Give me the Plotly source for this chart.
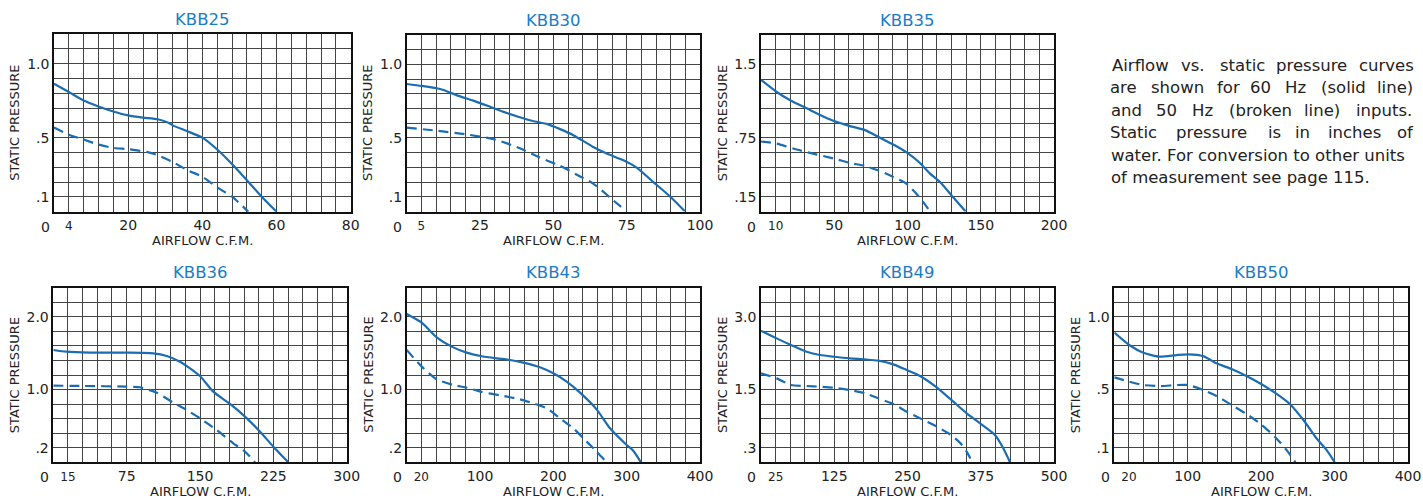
import plotly.graph_objects as go

W, H = 1423, 499

# ---------------- data ----------------
chart_names = ["KBB25", "KBB30", "KBB35", "KBB36", "KBB43", "KBB49", "KBB50"]

# axis maxima (20 x-divisions, 12 y-divisions)
x_max = [80, 100, 200, 300, 400, 500, 400]
y_max = [1.2, 1.2, 1.8, 2.4, 2.4, 3.6, 1.2]

# tick values / labels
x_tickvals = [[4, 20, 40, 60, 80], [5, 25, 50, 75, 100], [10, 50, 100, 150, 200],
              [15, 75, 150, 225, 300], [20, 100, 200, 300, 400],
              [25, 125, 250, 375, 500], [20, 100, 200, 300, 400]]
y_tickvals = [[0.1, 0.5, 1.0], [0.1, 0.5, 1.0], [0.15, 0.75, 1.5],
              [0.2, 1.0, 2.0], [0.2, 1.0, 2.0], [0.3, 1.5, 3.0], [0.1, 0.5, 1.0]]
y_ticktext = [[".1", ".5", "1.0"], [".1", ".5", "1.0"], [".15", ".75", "1.5"],
              [".2", "1.0", "2.0"], [".2", "1.0", "2.0"], [".3", "1.5", "3.0"], [".1", ".5", "1.0"]]

# 60 Hz (solid) and 50 Hz (broken) curves
kbb25_cfm_60 = [0, 4, 8, 12, 16, 20, 24, 28, 31, 32, 35.8, 40, 44, 48.3, 52, 56, 60]
kbb25_sp_60 = [0.864, 0.808, 0.751, 0.711, 0.677, 0.650, 0.635, 0.624, 0.599, 0.583, 0.545, 0.50, 0.42, 0.314, 0.213, 0.101, 0.0]
kbb25_cfm_50 = [0, 4, 8, 12, 16, 20, 25, 28, 32, 36, 40, 44, 48, 52.4]
kbb25_sp_50 = [0.568, 0.52, 0.487, 0.453, 0.431, 0.422, 0.404, 0.381, 0.336, 0.28, 0.236, 0.164, 0.101, 0.0]

kbb30_cfm_60 = [0, 5.1, 10.2, 12.5, 17.7, 22.7, 27.8, 32.8, 38, 43, 48, 52.3, 56.8, 59.7, 63.6, 68.2, 73.9, 78.4, 84.1, 89.8, 94.9]
kbb30_sp_60 = [0.867, 0.854, 0.838, 0.826, 0.786, 0.754, 0.717, 0.679, 0.644, 0.615, 0.594, 0.56, 0.519, 0.485, 0.439, 0.394, 0.348, 0.298, 0.2, 0.102, 0.0]
kbb30_cfm_50 = [0, 10, 20, 30, 38.6, 45, 52.3, 58, 63.6, 70.5, 75]
kbb30_sp_50 = [0.57, 0.55, 0.525, 0.49, 0.43, 0.37, 0.31, 0.25, 0.19, 0.075, 0.0]

kbb35_cfm_60 = [0, 10.7, 20.5, 31.2, 40.3, 49.8, 60.8, 71, 80, 90.3, 99.9, 108.5, 115.4, 122.2, 130.1, 139.7]
kbb35_sp_60 = [1.342, 1.219, 1.13, 1.052, 0.984, 0.922, 0.871, 0.83, 0.762, 0.683, 0.598, 0.495, 0.386, 0.3, 0.164, 0.0]
kbb35_cfm_50 = [0, 10.7, 22, 33.4, 49.8, 60.8, 71, 80, 90.3, 99.4, 105, 110.8, 115.4]
kbb35_sp_50 = [0.714, 0.693, 0.642, 0.598, 0.54, 0.495, 0.464, 0.42, 0.352, 0.283, 0.198, 0.096, 0.0]

kbb36_cfm_60 = [0, 13.6, 37.5, 75, 102.3, 116, 129.5, 139.8, 150, 163.6, 180.7, 196, 211.4, 225, 240.3]
kbb36_sp_60 = [1.544, 1.52, 1.507, 1.507, 1.498, 1.461, 1.383, 1.292, 1.186, 0.971, 0.802, 0.628, 0.421, 0.215, 0.0]
kbb36_cfm_50 = [0, 30.7, 75, 88.6, 105.7, 122.7, 136.4, 150, 167, 184, 196, 206.3]
kbb36_sp_50 = [1.054, 1.049, 1.04, 1.031, 0.957, 0.82, 0.719, 0.605, 0.444, 0.261, 0.147, 0.0]

kbb43_cfm_60 = [0, 20.5, 40.9, 61.4, 81.8, 100.9, 122.7, 140.9, 159, 181.8, 200, 218.2, 236.4, 259, 277.3, 300, 309, 319.5]
kbb43_sp_60 = [2.038, 1.919, 1.718, 1.59, 1.507, 1.461, 1.429, 1.406, 1.37, 1.306, 1.223, 1.109, 0.957, 0.728, 0.467, 0.238, 0.16, 0.0]
kbb43_cfm_50 = [0, 20.5, 40.9, 63.6, 81.8, 100.9, 127.3, 154.5, 172.7, 190.9, 209, 227.3, 245.5, 259, 272.7]
kbb43_sp_50 = [1.544, 1.315, 1.141, 1.063, 1.026, 0.971, 0.921, 0.866, 0.811, 0.742, 0.605, 0.467, 0.284, 0.147, 0.0]

kbb49_cfm_60 = [0, 26.7, 51.2, 77.9, 100.7, 124.6, 151.9, 177.5, 200.2, 225.8, 248.6, 271.3, 299.8, 328.2, 351, 373.7, 399.3, 413.5, 424.9]
kbb49_sp_60 = [2.713, 2.555, 2.418, 2.28, 2.212, 2.177, 2.143, 2.122, 2.095, 2.019, 1.902, 1.779, 1.545, 1.25, 1.01, 0.804, 0.563, 0.288, 0.0]
kbb49_cfm_50 = [0, 26.7, 51.2, 77.9, 100.7, 124.6, 151.9, 177.5, 200.2, 225.8, 248.6, 271.3, 299.8, 322.5, 339.6, 351, 360.6]
kbb49_sp_50 = [1.834, 1.731, 1.593, 1.573, 1.559, 1.538, 1.49, 1.422, 1.319, 1.202, 1.044, 0.907, 0.735, 0.577, 0.405, 0.22, 0.0]

kbb50_cfm_60 = [0, 20.4, 39.5, 62.1, 84.8, 100.7, 121.1, 139.2, 159.6, 180, 198.2, 218.6, 239, 259.4, 275.3, 289, 300.2]
kbb50_sp_60 = [0.891, 0.806, 0.753, 0.726, 0.737, 0.742, 0.73, 0.68, 0.641, 0.593, 0.543, 0.479, 0.401, 0.279, 0.165, 0.085, 0.0]
kbb50_cfm_50 = [0, 20.4, 39.5, 62.1, 84.8, 100.7, 121.1, 139.2, 159.6, 180, 198.2, 218.6, 234.5, 246.7]
kbb50_sp_50 = [0.584, 0.554, 0.531, 0.524, 0.531, 0.531, 0.497, 0.456, 0.394, 0.332, 0.268, 0.176, 0.085, 0.0]

series_60 = [(kbb25_cfm_60, kbb25_sp_60), (kbb30_cfm_60, kbb30_sp_60), (kbb35_cfm_60, kbb35_sp_60),
             (kbb36_cfm_60, kbb36_sp_60), (kbb43_cfm_60, kbb43_sp_60), (kbb49_cfm_60, kbb49_sp_60),
             (kbb50_cfm_60, kbb50_sp_60)]
series_50 = [(kbb25_cfm_50, kbb25_sp_50), (kbb30_cfm_50, kbb30_sp_50), (kbb35_cfm_50, kbb35_sp_50),
             (kbb36_cfm_50, kbb36_sp_50), (kbb43_cfm_50, kbb43_sp_50), (kbb49_cfm_50, kbb49_sp_50),
             (kbb50_cfm_50, kbb50_sp_50)]

note_lines = [
    "Airflow vs. static pressure curves",
    "are shown for 60 Hz (solid line)",
    "and 50 Hz (broken line) inputs.",
    "Static pressure is in inches of",
    "water. For conversion to other units",
    "of measurement see page 115.",
]

# ---------------- layout (pixel boxes of plot areas: left, top, right, bottom) ----------------
boxes = [(54, 34, 350.7, 211.7), (406.7, 35, 700, 211.5), (761, 35, 1054, 211.5),
         (53.3, 287.7, 346.7, 462.3), (406.7, 287.7, 700, 462.3), (761, 287.7, 1054, 462.3),
         (1114.3, 287.7, 1408, 462.3)]

LINE = "#1a6db3"
TITLE = "#1b7cc6"
GRID = "#444444"
TXT = "#222222"
FONT = "DejaVu Sans"


def px(x):
    return x / W


def py(y):
    return 1 - y / H


fig = go.Figure()
annotations = []
layout_axes = {}

for i, name in enumerate(chart_names):
    n = i + 1
    xa = "x" if n == 1 else f"x{n}"
    ya = "y" if n == 1 else f"y{n}"
    l, t, r, b = boxes[i]

    xs, ys = series_60[i]
    fig.add_trace(go.Scatter(x=xs, y=ys, mode="lines", xaxis=xa, yaxis=ya,
                             line=dict(color=LINE, width=2.2, shape="spline", smoothing=0.6),
                             showlegend=False, hoverinfo="skip"))
    xs, ys = series_50[i]
    fig.add_trace(go.Scatter(x=xs, y=ys, mode="lines", xaxis=xa, yaxis=ya,
                             line=dict(color=LINE, width=2.2, dash="10px,6px", shape="spline", smoothing=0.6),
                             showlegend=False, hoverinfo="skip"))

    xt = [str(v) for v in x_tickvals[i]]
    xt[0] = f"<span style='font-size:12px'>{xt[0]}</span>"
    layout_axes[f"xaxis{'' if n == 1 else n}"] = dict(
        domain=[px(l), px(r)], anchor=ya, range=[0, x_max[i]],
        tickvals=x_tickvals[i], ticktext=xt, ticks="",
        tickfont=dict(family=FONT, size=14, color=TXT),
        showgrid=True, gridcolor=GRID, gridwidth=1,
        minor=dict(dtick=x_max[i] / 20, tick0=0, showgrid=True, gridcolor=GRID, gridwidth=1),
        showline=True, mirror=True, linecolor="#111", linewidth=1.5,
        zeroline=False, automargin=False, fixedrange=True)
    layout_axes[f"yaxis{'' if n == 1 else n}"] = dict(
        domain=[py(b), py(t)], anchor=xa, range=[0, y_max[i]],
        tickvals=y_tickvals[i], ticktext=y_ticktext[i], ticks="",
        tickfont=dict(family=FONT, size=14, color=TXT),
        showgrid=True, gridcolor=GRID, gridwidth=1,
        minor=dict(dtick=y_max[i] / 12, tick0=0, showgrid=True, gridcolor=GRID, gridwidth=1),
        showline=True, mirror=True, linecolor="#111", linewidth=1.5,
        zeroline=False, automargin=False, fixedrange=True)

    # subplot title
    annotations.append(dict(text=name, xref="paper", yref="paper", x=px((l + r) / 2), y=py(t - 15),
                            xanchor="center", yanchor="middle", showarrow=False,
                            font=dict(family=FONT, size=16.5, color=TITLE)))
    # axis titles
    annotations.append(dict(text="AIRFLOW C.F.M.", xref="paper", yref="paper", x=px((l + r) / 2), y=py(b + 29),
                            xanchor="center", yanchor="middle", showarrow=False,
                            font=dict(family=FONT, size=13, color=TXT)))
    annotations.append(dict(text="STATIC PRESSURE", xref="paper", yref="paper", x=px(l - 39), y=py((t + b) / 2),
                            xanchor="center", yanchor="middle", showarrow=False, textangle=-90,
                            font=dict(family=FONT, size=13, color=TXT)))
    # origin label
    annotations.append(dict(text="0", xref=xa, yref="paper", x=0, y=py(b + 15), xshift=-9,
                            xanchor="center", yanchor="middle", showarrow=False,
                            font=dict(family=FONT, size=14, color=TXT)))

# note paragraph (justified lines emulated by word placement)
word_centers = [
    [1140.5, 1192.8, 1242.0, 1311.7, 1386.7],
    [1123.8, 1177.0, 1228.3, 1260.8, 1295.8, 1343.3, 1395.0],
    [1126.3, 1166.3, 1202.0, 1260.0, 1321.7, 1384.2],
    [1133.8, 1211.3, 1274.2, 1302.5, 1354.2, 1405.8],
]
line_y = [65, 87.3, 110, 132.7, 155, 177.3]
for k, line in enumerate(note_lines):
    if k < 4:
        for w, cx in zip(line.split(" "), word_centers[k]):
            annotations.append(dict(text=w, xref="paper", yref="paper", x=px(cx), y=py(line_y[k]),
                                    xanchor="center", yanchor="middle", showarrow=False,
                                    font=dict(family=FONT, size=16.5, color=TXT)))
    else:
        annotations.append(dict(text=line, xref="paper", yref="paper", x=px(1109.3), y=py(line_y[k]),
                                xanchor="left", yanchor="middle", showarrow=False,
                                font=dict(family=FONT, size=16.5, color=TXT)))

fig.update_layout(width=W, height=H, margin=dict(l=0, r=0, t=0, b=0),
                  paper_bgcolor="white", plot_bgcolor="white",
                  annotations=annotations, **layout_axes)

fig.write_html("out.html", config={"displayModeBar": False},
               post_script="document.body.style.margin='0';document.body.style.overflow='hidden';")
